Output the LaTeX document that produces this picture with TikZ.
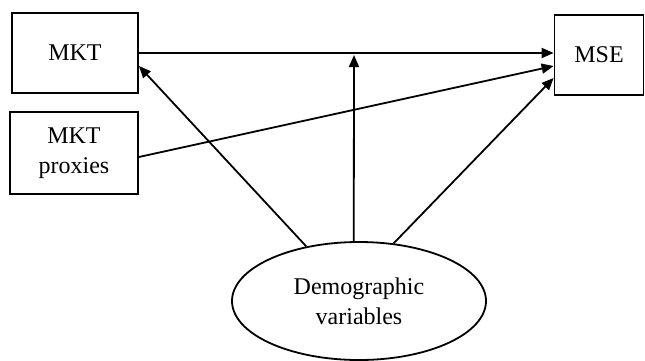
\documentclass[tikz,border=0pt]{standalone}
\usepackage{fontspec}
\setmainfont{Liberation Serif}
\usetikzlibrary{shapes.geometric,arrows.meta}
\begin{document}
\begin{tikzpicture}[x=1pt,y=-1pt,
  every node/.style={font=\fontsize{24}{30}\selectfont},
  box/.style={draw,line width=1.8pt,inner sep=0pt,align=center},
  conn/.style={line width=1.8pt,-{Triangle[length=12pt,width=10pt]}}]
\useasboundingbox (0,0) rectangle (645,360);
\node[box,minimum width=126,minimum height=80] (mkt) at (75,53) {MKT};
\node[box,minimum width=128,minimum height=82] (prox) at (74,153) {MKT\\proxies};
\node[box,minimum width=89,minimum height=80] (mse) at (599,55) {MSE};
\node[draw,ellipse,line width=1.8pt,minimum width=254,minimum height=118,inner sep=0pt,align=center] (dem) at (359,301) {Demographic\\variables};
\coordinate (m1) at (mse.west |- mkt.east);
\coordinate (m2) at ([yshift=-11]mse.west);
\coordinate (m3) at ([yshift=-23]mse.west);
\coordinate (k1) at ([yshift=-13]mkt.east);
\coordinate (h1) at (354,55);
\draw[conn] (mkt.east) -- (m1);
\draw[conn] ([yshift=-4]prox.east) -- (m2);
\draw[conn] (dem.134) -- (k1);
\draw[conn] (dem.95) -- (h1);
\draw[conn] (dem.59) -- (m3);
\end{tikzpicture}
\end{document}
